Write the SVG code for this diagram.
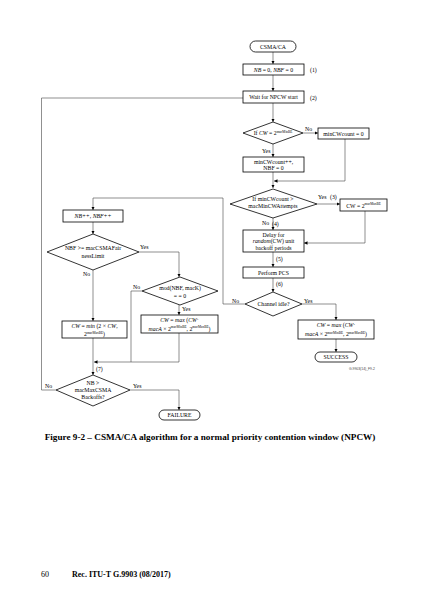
<svg xmlns="http://www.w3.org/2000/svg" width="424" height="600" viewBox="0 0 424 600">
<defs>
<marker id="ah" viewBox="0 0 6 6" markerWidth="3.5" markerHeight="3.5" refX="6" refY="3" orient="auto" markerUnits="userSpaceOnUse">
<path d="M0,0 L6,3 L0,6 z" fill="#000"/>
</marker>
<style>
.b{fill:#fff;stroke:#000;stroke-width:0.8}
.c{fill:none;stroke:#444;stroke-width:0.6}
.a{marker-end:url(#ah)}
text{font-family:"Liberation Serif","Times New Roman",serif;font-size:5.8px;fill:#000}
.m{text-anchor:middle}
.i{font-style:italic}
.s{font-size:3.4px}
.cap{font-size:9.2px;font-weight:bold;text-anchor:middle}
.ft{font-size:8px}
.fid{font-family:"Liberation Sans",Arial,sans-serif;font-size:3.4px;fill:#444}
</style>
</defs>
<rect width="424" height="600" fill="#fff"/>

<g id="connectors">
<path class="c a" d="M273,52 V64"/>
<path class="c a" d="M273,75 V91"/>
<path class="c a" d="M273,103 V122"/>
<path class="c a" d="M303,133 H318"/>
<path class="c a" d="M273,144 V157"/>
<path class="c a" d="M345,139 V181 H274"/>
<path class="c a" d="M273,172 V188"/>
<path class="c a" d="M317,204 H340"/>
<path class="c a" d="M365,211 V243 H304"/>
<path class="c a" d="M273,218 V230"/>
<path class="c a" d="M273,252 V267"/>
<path class="c a" d="M273,278 V292"/>
<path class="c a" d="M302,304 H336 V320"/>
<path class="c a" d="M336,339 V352"/>
<path class="c a" d="M245,304 H223 V198 H93 V210"/>
<path class="c a" d="M93,222 V234"/>
<path class="c a" d="M139,252 H179 V277"/>
<path class="c a" d="M93,270 V321"/>
<path class="c" d="M142,291 H131 V362"/>
<path class="c a" d="M179,305 V315"/>
<path class="c a" d="M179,333 V362 H94"/>
<path class="c a" d="M93,338 V375"/>
<path class="c a" d="M130,390 H179 V410"/>
<path class="c" d="M56,390 H41.5 V98 H243"/>
</g>

<g id="n-start">
<rect class="b" x="250" y="41" width="46" height="11" rx="5.5"/>
<text class="m" x="273" y="48.8">CSMA/CA</text>
</g>
<g id="n-init">
<rect class="b" x="243" y="64" width="61" height="11"/>
<text class="m" x="273.5" y="71.8"><tspan class="i">NB</tspan> = 0, <tspan class="i">NBF</tspan> = 0</text>
<text x="310" y="72">(1)</text>
</g>
<g id="n-wait">
<rect class="b" x="243" y="91" width="61" height="12"/>
<text class="m" x="273.5" y="99.2">Wait for NPCW start</text>
<text x="310" y="99.5">(2)</text>
</g>
<g id="n-d1">
<polygon class="b" points="243,133 273,122 303,133 273,144"/>
<text class="m" x="273" y="135">If <tspan class="i">CW</tspan> = 2<tspan class="s" dy="-2.2">macMinBE</tspan></text>
<text x="305" y="130.5">No</text>
<text x="262" y="153">Yes</text>
</g>
<g id="n-mincw0">
<rect class="b" x="318" y="128" width="51" height="11"/>
<text class="m" x="343.5" y="135.8">minCWcount = 0</text>
</g>
<g id="n-mincwinc">
<rect class="b" x="243" y="157" width="61" height="15"/>
<text class="m" x="273.5" y="163.5">minCWcount++,</text>
<text class="m" x="273.5" y="170">NBF = 0</text>
</g>
<g id="n-d2">
<polygon class="b" points="230,204 273,189 317,204 273,218"/>
<text class="m" x="273" y="201">If minCWcount &gt;</text>
<text class="m" x="273" y="208">macMinCWAttempts</text>
<text x="318" y="199">Yes</text>
<text x="330" y="198.5">(3)</text>
<text x="262" y="224.5">No</text>
<text x="272" y="225.5">(4)</text>
</g>
<g id="n-cwmax">
<rect class="b" x="340" y="199" width="47" height="12"/>
<text class="m" x="363.5" y="207.5">CW = 2<tspan class="s" dy="-2.2">macMaxBE</tspan></text>
</g>
<g id="n-delay">
<rect class="b" x="243" y="230" width="61" height="22"/>
<text class="m" x="273.5" y="236.5">Delay for</text>
<text class="m" x="273.5" y="243.2"><tspan class="i">random</tspan>(CW) unit</text>
<text class="m" x="273.5" y="250">backoff periods</text>
<text x="276" y="261">(5)</text>
</g>
<g id="n-pcs">
<rect class="b" x="243" y="267" width="61" height="11"/>
<text class="m" x="273.5" y="274.8">Perform PCS</text>
<text x="276" y="286">(6)</text>
</g>
<g id="n-d3">
<polygon class="b" points="245,304 273,292 302,304 273,316"/>
<text class="m" x="273.5" y="306">Channel idle?</text>
<text x="232" y="302.5">No</text>
<text x="304" y="302.5">Yes</text>
</g>
<g id="n-cwmax2">
<rect class="b" x="298" y="320" width="76" height="19"/>
<text class="m" x="336" y="327"><tspan class="i">CW</tspan> = <tspan class="i">max</tspan> (<tspan class="i">CW</tspan>·</text>
<text class="m" x="336" y="336"><tspan class="i">macA</tspan> × 2<tspan class="s" dy="-2.2">macMinBE</tspan><tspan dy="2.2">, 2</tspan><tspan class="s" dy="-2.2">macMaxBE</tspan><tspan dy="2.2">)</tspan></text>
</g>
<g id="n-success">
<rect class="b" x="315" y="352" width="42" height="10" rx="5"/>
<text class="m" x="336" y="359.3">SUCCESS</text>
<text class="fid" x="349" y="370">G.9903(14)_F9-2</text>
</g>

<g id="n-nbinc">
<rect class="b" x="63" y="210" width="60" height="12"/>
<text class="m i" x="93" y="218">NB++, NBF++</text>
</g>
<g id="n-d4">
<polygon class="b" points="47,252 93,234 139,252 93,270"/>
<text class="m" x="93" y="250">NBF &gt;= macCSMAFair</text>
<text class="m" x="93" y="258">nessLimit</text>
<text x="140" y="248.5">Yes</text>
<text x="83" y="276">No</text>
</g>
<g id="n-d5">
<polygon class="b" points="142,291 180,277 218,291 180,305"/>
<text class="m" x="180" y="290">mod(NBF, macK)</text>
<text class="m" x="180" y="298">= = 0</text>
<text x="133" y="289">No</text>
<text x="182" y="311">Yes</text>
</g>
<g id="n-cwmin">
<rect class="b" x="62" y="321" width="65" height="17"/>
<text class="m" x="94.5" y="328"><tspan class="i">CW</tspan> = <tspan class="i">min</tspan> (2 × <tspan class="i">CW</tspan>,</text>
<text class="m" x="94.5" y="336">2<tspan class="s" dy="-2.2">macMaxBE</tspan><tspan dy="2.2">)</tspan></text>
</g>
<g id="n-cwmax3">
<rect class="b" x="141" y="315" width="77" height="18"/>
<text class="m" x="179.5" y="322"><tspan class="i">CW</tspan> = <tspan class="i">max</tspan> (<tspan class="i">CW</tspan>·</text>
<text class="m" x="179.5" y="330.5"><tspan class="i">macA</tspan> × 2<tspan class="s" dy="-2.2">macMinBE</tspan><tspan dy="2.2">, 2</tspan><tspan class="s" dy="-2.2">macMaxBE</tspan><tspan dy="2.2">)</tspan></text>
</g>
<g id="n-d6">
<polygon class="b" points="56,390 93,375 130,390 93,406"/>
<text class="m" x="93" y="385">NB &gt;</text>
<text class="m" x="93" y="392">macMaxCSMA</text>
<text class="m" x="93" y="399">Backoffs?</text>
<text x="96" y="371">(7)</text>
<text x="45" y="388">No</text>
<text x="133" y="388">Yes</text>
</g>
<g id="n-failure">
<rect class="b" x="159" y="410" width="41" height="10" rx="5"/>
<text class="m" x="179.5" y="417.3">FAILURE</text>
</g>

<text class="cap" x="210" y="440">Figure 9-2 – CSMA/CA algorithm for a normal priority contention window (NPCW)</text>
<text class="ft" x="41" y="577">60</text>
<text class="ft" x="72" y="577" font-weight="bold">Rec. ITU-T G.9903 (08/2017)</text>
</svg>
